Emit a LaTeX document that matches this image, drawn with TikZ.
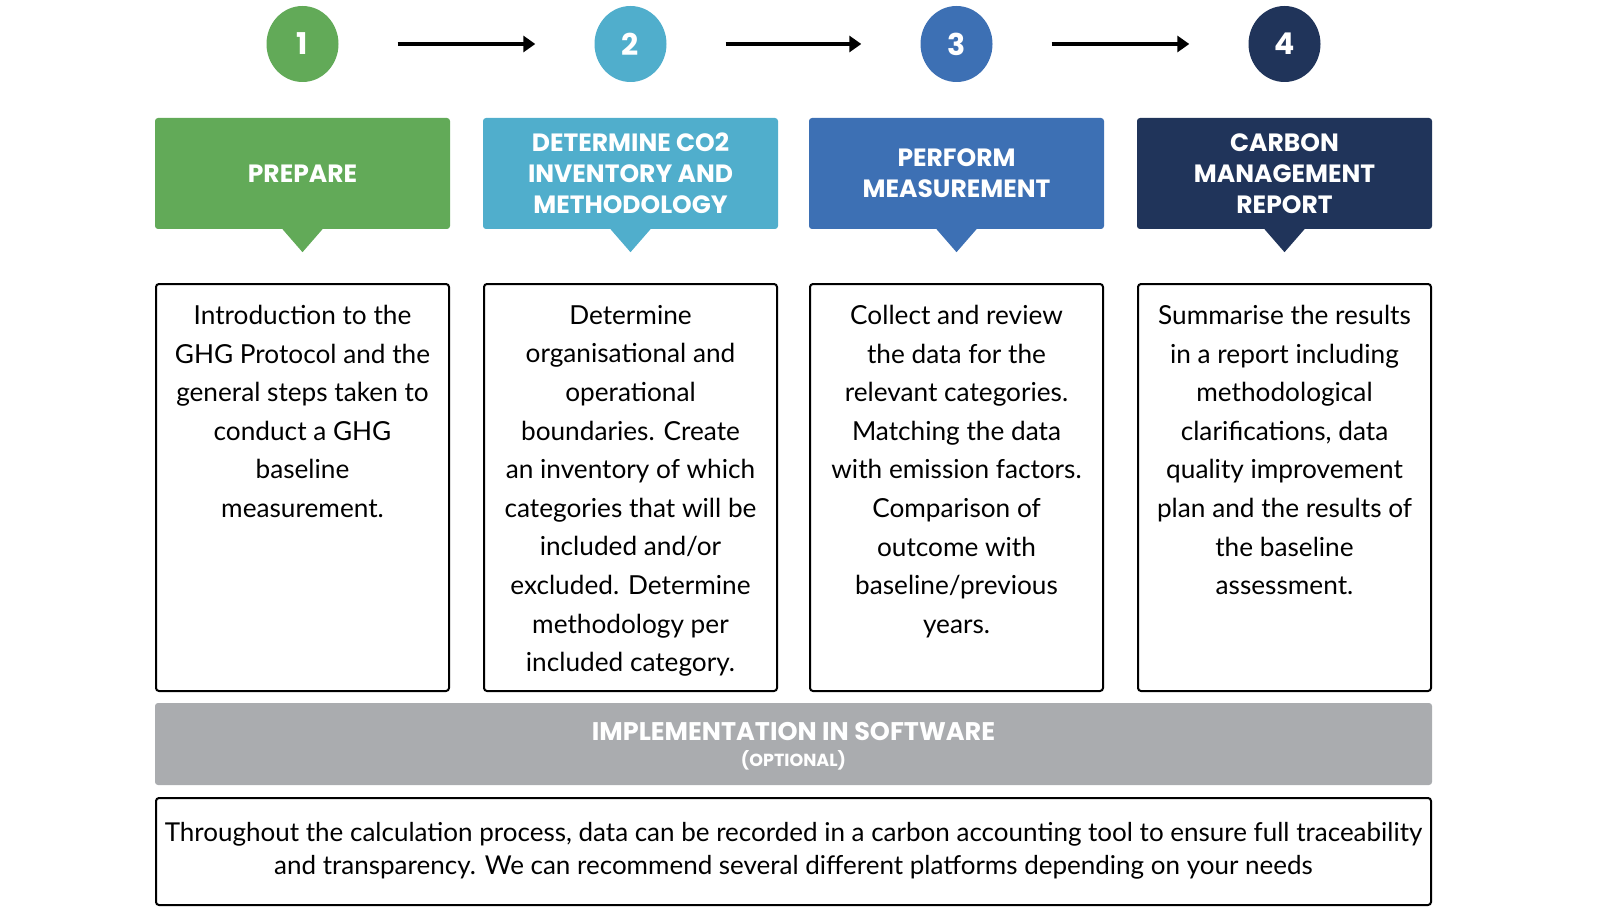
\documentclass[tikz,border=0pt]{standalone}
\usepackage{fontspec}
\setmainfont{Lato}
\newfontfamily\headfont{Poppins}
\usetikzlibrary{shapes.geometric,arrows.meta}
\definecolor{cgreen}{RGB}{98,170,88}
\definecolor{cteal}{RGB}{80,174,204}
\definecolor{cblue}{RGB}{61,112,180}
\definecolor{cnavy}{RGB}{32,52,90}
\definecolor{cgray}{RGB}{170,172,175}
\tikzset{
  numcirc/.style={ellipse, minimum width=72pt, minimum height=76pt, inner sep=0pt, text=white, font=\headfont\fontsize{30}{34}\selectfont\bfseries},
  flowarr/.style={line width=4pt, -{Triangle[length=12pt,width=16pt]}, shorten <=59pt, shorten >=59pt},
  headbox/.style={rounded corners=3pt, minimum width=295pt, minimum height=111pt, inner sep=0pt, text=white, align=center, font=\headfont\fontsize{25}{31}\selectfont\bfseries},
  textbox/.style={draw=black, line width=2pt, rounded corners=3pt, minimum width=293pt, minimum height=407pt, inner sep=0pt},
  bodytext/.style={align=center, inner sep=0pt, font=\fontsize{26.2}{38.6}\selectfont, text=black},
}
\begin{document}
\begin{tikzpicture}[x=1pt,y=-1pt]
\useasboundingbox (0,0) rectangle (1600,909);
% circles
\node[numcirc, fill=cgreen] (c1) at (302.5,44) {1};
\node[numcirc, fill=cteal] (c2) at (630.5,44) {2};
\node[numcirc, fill=cblue] (c3) at (956.5,44) {3};
\node[numcirc, fill=cnavy] (c4) at (1284.5,44) {4};
\draw[flowarr] (c1) -- (c2);
\draw[flowarr] (c2) -- (c3);
\draw[flowarr] (c3) -- (c4);
% headers
\node[headbox, fill=cgreen] (h1) at (302.5,173.5) {PREPARE};
\node[headbox, fill=cteal] (h2) at (630.5,173.5) {DETERMINE CO2\\INVENTORY AND\\METHODOLOGY};
\node[headbox, fill=cblue] (h3) at (956.5,173.5) {PERFORM\\MEASUREMENT};
\node[headbox, fill=cnavy] (h4) at (1284.5,173.5) {CARBON\\MANAGEMENT\\REPORT};
\foreach \h/\c in {h1/cgreen,h2/cteal,h3/cblue,h4/cnavy}{
  \fill[\c] ([xshift=-20pt]\h.south) -- ([yshift=-23pt]\h.south) -- ([xshift=20pt]\h.south) -- cycle;
}
% text boxes
\node[textbox] (b1) at (302.5,487.5) {};
\node[textbox] (b2) at (630.5,487.5) {};
\node[textbox] (b3) at (956.5,487.5) {};
\node[textbox] (b4) at (1284.5,487.5) {};
\node[bodytext, anchor=north] (t1) at ([yshift=-22pt]b1.north) {Introduction to the\\GHG Protocol and the\\general steps taken to\\conduct a GHG\\baseline\\measurement.};
\node[bodytext, anchor=north] (t2) at ([yshift=-22pt]b2.north) {Determine\\organisational and\\operational\\boundaries. Create\\an inventory of which\\categories that will be\\included and/or\\excluded. Determine\\methodology per\\included category.};
\node[bodytext, anchor=north] (t3) at ([yshift=-22pt]b3.north) {Collect and review\\the data for the\\relevant categories.\\Matching the data\\with emission factors.\\Comparison of\\outcome with\\baseline/previous\\years.};
\node[bodytext, anchor=north] (t4) at ([yshift=-22pt]b4.north) {Summarise the results\\in a report including\\methodological\\clarifications, data\\quality improvement\\plan and the results of\\the baseline\\assessment.};
% gray band
\node[fill=cgray, rounded corners=3pt, minimum width=1277pt, minimum height=82pt, inner sep=0pt] (band) at (793.5,744) {};
\node[text=white, inner sep=0pt, font=\headfont\fontsize{25.5}{30}\selectfont\bfseries] (bt) at (793.5,732) {IMPLEMENTATION IN SOFTWARE};
\node[text=white, inner sep=0pt, font=\headfont\fontsize{17.5}{20}\selectfont\bfseries] (bo) at (793.5,760) {(OPTIONAL)};
% bottom box
\node[draw=black, line width=2pt, rounded corners=3pt, minimum width=1275pt, minimum height=107pt, inner sep=0pt] (bottom) at (793.5,851.5) {};
\node[align=center, inner sep=0pt, font=\fontsize{26}{33}\selectfont] (bottomtext) at (793.5,851) {Throughout the calculation process, data can be recorded in a carbon accounting tool to ensure full traceability\\and transparency. We can recommend several different platforms depending on your needs};
\end{tikzpicture}
\end{document}
